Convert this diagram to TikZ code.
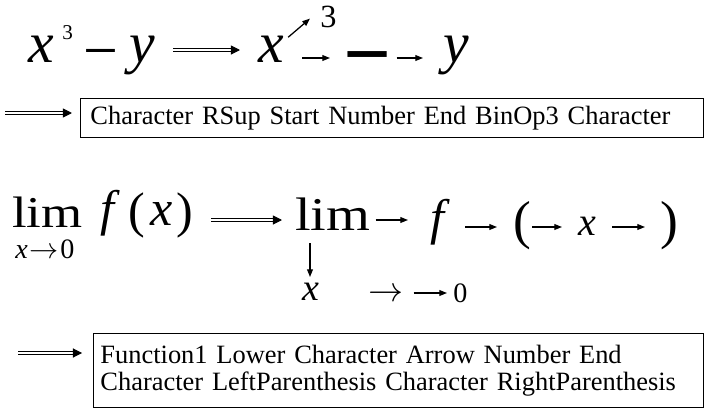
\documentclass[tikz,border=0pt]{standalone}
\usepackage{fontspec}
\setmainfont{LiberationSerif}[Extension=.ttf,UprightFont=*-Regular,
    BoldFont=*-Bold,ItalicFont=*-Italic,BoldItalicFont=*-BoldItalic]
\newfontfamily\limfont{LiberationSerif}[Extension=.ttf,UprightFont=*-Regular,
    FakeStretch=1.2]
\usetikzlibrary{arrows.meta,positioning}
\newcommand\fsz[1]{\fontsize{#1}{#1}\selectfont}
\tikzset{
    glyph/.style={inner sep=0pt,anchor=base west},
    sarr/.style={-{Triangle[length=5.5pt,width=4.2pt]},line width=0.9pt},
    dblarr/.style={double,double distance=1.6pt,line width=0.7pt,
        -{Triangle[length=6.5pt,width=6.5pt]}},
    tagbox/.style={draw,line width=0.7pt,anchor=north west,align=left,
        font=\fsz{18.8},inner ysep=0pt}
}
\begin{document}
\begin{tikzpicture}[x=0.025cm,y=-0.025cm]
    \useasboundingbox (0,0) rectangle (705,409);
    % first formula
    \node[glyph,font=\fsz{41}\itshape] (xa)  at (28,62)  {x};
    \node[glyph,font=\fsz{15}]         (spa) at (62,39)  {3};
    \node[glyph,font=\fsz{44}]         (ma)  at (83,71)  {−};
    \node[glyph,font=\fsz{41}\itshape] (ya)  at (129,62) {y};
    % its tree
    \node[glyph,font=\fsz{41}\itshape] (xb)  at (258,62) {x};
    \node[glyph,font=\fsz{23}]         (spb) at (320,27) {3};
    \node[glyph,font=\fsz{60}\bfseries] (mb) at (343,82) {−};
    \node[glyph,font=\fsz{41}\itshape] (yb)  at (443,62) {y};
    % first tag string
    \node[tagbox,minimum width=443.1pt,minimum height=27.7pt,
        text width=428.9pt] (tag1) at (80,98)
        {Character RSup Start Number End BinOp3 Character};

    % second formula
    \node[glyph,font=\fsz{31.3}\limfont] (lima) at (12,227) {lim};
    \node[glyph,font=\fsz{20}] (suba) at (15,258)
        {\itshape x\kern1.5pt$\rightarrow$\kern1pt\upshape0};
    \node[glyph,font=\fsz{35.6}\itshape] (fa)  at (100,225) {f};
    \node[glyph,font=\fsz{35.6}]         (lpa) at (128,227) {(};
    \node[glyph,font=\fsz{35.6}\itshape] (xc)  at (150,225) {x};
    \node[glyph,font=\fsz{35.6}]         (rpa) at (176,227) {)};
    % its tree
    \node[glyph,font=\fsz{33.4}\limfont] (limb) at (295,230) {lim};
    \node[glyph,font=\fsz{35.6}\itshape] (fb)  at (430,234) {f};
    \node[glyph,font=\fsz{38}]           (lpb) at (513,238) {(};
    \node[glyph,font=\fsz{28.5}\itshape] (xd)  at (578,235) {x};
    \node[glyph,font=\fsz{38}]           (rpb) at (660,238) {)};
    \node[glyph,font=\fsz{27}\itshape]   (xe)  at (302,300) {x};
    \node[glyph,font=\fsz{23}]           (ra)  at (368,301) {$\rightarrow$};
    \node[glyph,font=\fsz{20}]           (zo)  at (453,302) {0};
    % second tag string
    \node[tagbox,minimum width=433.9pt,minimum height=52.6pt,
        text width=424pt] (tag2) at (93,333)
        {Function1 Lower Character Arrow Number End\\
         Character LeftParenthesis Character RightParenthesis};

    \coordinate (s1) at (5,113);
    \coordinate (s2) at (18,353);

    \draw[dblarr] ([shift={(18,-12)}]ya.base east) -- ([shift={(-18,-12)}]xb.base west);
    \draw[sarr] ([shift={(4,2)}]xb.north east) -- ([shift={(-10,-9)}]spb.south west);
    \draw[sarr] ([shift={(18,-4)}]xb.base east) -- ([shift={(-13,-24)}]mb.base west);
    \draw[sarr] ([shift={(5,-24)}]mb.base east) -- ([shift={(-20,-4)}]yb.base west);
    \draw[dblarr,shorten >=5.7pt] (s1) -- (s1 -| tag1.west);

    \draw[dblarr] ([shift={(18,-7)}]rpa.base east) -- ([shift={(-13,-10)}]limb.base west);
    \draw[sarr] ([shift={(5,-10)}]limb.base east) -- ([shift={(-22,-14)}]fb.base west);
    \draw[sarr] ([shift={(21,-7)}]fb.base east) -- ([shift={(-16,-11)}]lpb.base west);
    \draw[sarr] ([shift={(1,-11)}]lpb.base east) -- ([shift={(-16,-8)}]xd.base west);
    \draw[sarr] ([shift={(16,-8)}]xd.base east) -- ([shift={(-15,-11)}]rpb.base west);
    \draw[sarr] ([shift={(15,13)}]limb.base west) -- ([shift={(8,-23)}]xe.base west);
    \draw[sarr] ([shift={(10,-8)}]ra.base east) -- ([shift={(-6,-9)}]zo.base west);
    \draw[dblarr,shorten >=7.8pt] (s2) -- (s2 -| tag2.west);
\end{tikzpicture}
\end{document}
